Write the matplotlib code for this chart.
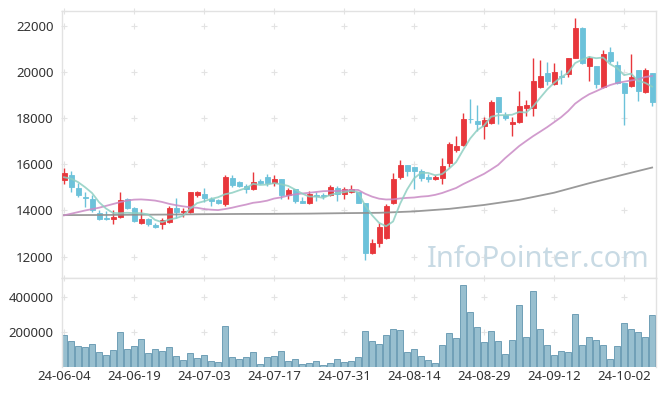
"""Candlestick chart with moving averages and volume panel."""
import matplotlib
matplotlib.use("Agg")
import matplotlib.pyplot as plt
import numpy as np
import pandas as pd

tick_labels = ["24-06-04", "24-06-19", "24-07-03", "24-07-17", "24-07-31",
               "24-08-14", "24-08-29", "24-09-12", "24-10-02"]

opens = [15300, 15555, 14960, 14600, 14480, 13880, 13680, 13625, 13710, 14500,
         14120, 13450, 13620, 13390, 13395, 13495, 14115, 13915, 13930, 14660,
         14735, 14490, 14460, 14290, 15425, 15250, 15065, 14920, 15295, 15470,
         15210, 15380, 14660, 14920, 14430, 14315, 14660, 14680, 14650, 14980,
         14720, 14790, 14790, 14315, 12155, 12590, 12820, 14335, 15440, 15975,
         15890, 15730, 15440, 15350, 15415, 16045, 16620, 16850, 17975, 17860,
         17640, 17770, 18895, 18135, 17745, 17815, 18420, 18420, 19355, 19960,
         19470, 19830, 19920, 20620, 21900, 20235, 20265, 19330, 20855, 20305,
         19500, 19400, 20080, 19110, 19960]
highs = [15850, 15730, 15180, 14820, 14650, 14000, 13970, 14040, 14780, 14520,
         14170, 14060, 13680, 13450, 13655, 14215, 14550, 14115, 14810, 14865,
         14980, 14605, 14500, 15555, 15555, 15260, 15150, 15670, 15350, 15585,
         15555, 15385, 14995, 14930, 14575, 14835, 14790, 14765, 15125, 15080,
         15005, 15110, 14800, 14320, 12760, 13470, 14290, 15630, 16190, 15980,
         15890, 15785, 15585, 15525, 16277, 16950, 17240, 18235, 18825, 18580,
         18030, 18780, 18900, 18245, 18060, 19155, 18795, 20600, 20525, 20440,
         20380, 20080, 20620, 22320, 21950, 20695, 20270, 20955, 21085, 20480,
         19505, 20770, 20080, 20190, 19965]
lows = [15150, 14790, 14570, 14140, 13930, 13570, 13600, 13430, 13680, 14050,
        13495, 13420, 13350, 13250, 13210, 13470, 13685, 13740, 13900, 14575,
        14360, 14200, 14280, 14200, 15005, 15005, 14750, 14895, 15155, 15080,
        15050, 14505, 14490, 14345, 14340, 14290, 14400, 14505, 14620, 14400,
        14505, 14765, 14340, 11870, 12130, 12415, 12775, 14300, 15370, 15510,
        14940, 15295, 15255, 15325, 15155, 15870, 16535, 16810, 17790, 17455,
        17100, 17745, 17745, 17920, 17240, 17790, 18090, 18090, 19285, 19445,
        19415, 19475, 19775, 20600, 20335, 19585, 19300, 19300, 20405, 19475,
        17700, 19355, 18720, 19085, 18505]
closes = [15610, 15007, 14650, 14520, 14000, 13620, 13630, 13700, 14460, 14100,
          13540, 13620, 13430, 13280, 13600, 14115, 13915, 13960, 14780, 14820,
          14520, 14430, 14315, 15440, 15125, 15050, 14920, 15240, 15200, 15200,
          15380, 14650, 14905, 14400, 14345, 14720, 14640, 14635, 15025, 14720,
          14935, 14935, 14345, 12155, 12605, 13280, 14215, 15370, 15975, 15700,
          15700, 15415, 15350, 15470, 15945, 16895, 16810, 17960, 17950, 17745,
          17930, 18710, 18280, 17990, 17815, 18535, 18580, 19615, 19830, 19615,
          20005, 19760, 20610, 21920, 20365, 20595, 19470, 20770, 20480, 19515,
          19070, 19790, 19185, 20080, 18680]
volumes = [186000, 152900, 121900, 116100, 133500, 87100, 69700, 98700, 203200, 104500,
           121900, 162500, 81300, 104500, 92900, 116100, 63900, 40600, 81300, 52200,
           69700, 34800, 29000, 238000, 58000, 46400, 58000, 87100, 17400, 58000,
           63900, 92900, 34800, 46400, 17400, 23200, 34800, 11600, 23200, 46400,
           29000, 34800, 58000, 209000, 150900, 133500, 185800, 220600, 214800, 87100,
           104500, 63900, 40600, 23200, 127700, 197400, 168300, 472100, 313500, 232200,
           145100, 209000, 150900, 75500, 156700, 356000, 174200, 435400, 220600, 127700,
           69700, 92900, 87100, 301900, 127700, 174200, 156700, 127700, 46400, 121900,
           255400, 220600, 203200, 174200, 296100]

# first points of the averages need history before the window
ma5_head = [15440, 15380, 15230, 15010]
ma20_head = [13790, 13860, 13930, 14000, 14060, 14120, 14200, 14280, 14360, 14430,
             14470, 14480, 14460, 14430, 14370, 14290, 14230, 14180, 14140]
ma_long_idx = [0, 5, 10, 15, 20, 25, 30, 35, 40, 45, 50, 55, 60, 65, 70, 75, 80, 84]
ma_long = [13800, 13805, 13815, 13825, 13840, 13850, 13855, 13865, 13885, 13900,
           13960, 14070, 14240, 14460, 14770, 15180, 15560, 15860]

RED = "#e8373c"
BLUE = "#6cc2da"
GRID = "#e3e3e3"
FRAME = "#e2e2e2"
FONT = "Noto Sans"

x = np.arange(len(closes))
o = np.array(opens)
c = np.array(closes)
colors = np.where(c >= o, RED, BLUE)

close_s = pd.Series(closes, dtype=float)
ma5 = close_s.rolling(5).mean().to_numpy()
ma5[:len(ma5_head)] = ma5_head
ma20 = close_s.rolling(20).mean().to_numpy()
ma20[:len(ma20_head)] = ma20_head

fig = plt.figure(figsize=(6.65, 3.96), dpi=100)
ax = fig.add_axes([0.0928, 0.2987, 0.8931, 0.6743])
axv = fig.add_axes([0.0928, 0.0725, 0.8931, 0.2262])

xlim = (-0.33, len(closes) - 0.5)
tick_pos = np.arange(0, len(closes), 10)[:len(tick_labels)]

# candles
ax.vlines(x, lows, highs, colors=colors, lw=1.0, zorder=2)
ax.bar(x, np.abs(c - o), bottom=np.minimum(o, c), width=0.72,
       color=colors, edgecolor=colors, lw=0.6, zorder=3)

ax.plot(ma_long_idx, ma_long, color="#8f8f8f", lw=1.3, alpha=0.9, zorder=4)
ax.plot(x, ma20, color="#c98ac5", lw=1.3, alpha=0.85, zorder=4)
ax.plot(x, ma5, color="#8ecfc2", lw=1.3, alpha=0.85, zorder=4)

ax.set_xlim(*xlim)
ax.set_ylim(11090, 22650)
yt = np.arange(12000, 22001, 2000)
ax.set_yticks(yt)
ax.set_xticks([])

gx, gy = np.meshgrid(tick_pos, list(yt) + [22650])
ax.plot(gx.ravel(), gy.ravel(), "+", color=GRID, ms=5, mew=0.8, zorder=0, clip_on=False)

ax.text(0.802, 0.04, "InfoPointer.com", transform=ax.transAxes, ha="center",
        va="baseline", fontsize=21, color="#c8dae4", family=FONT, zorder=1)

# volume
axv.bar(x, volumes, width=0.95, color="#98bfcf", edgecolor="#6f9fb6", lw=0.7, zorder=2)
axv.set_xlim(*xlim)
axv.set_ylim(0, 512000)
axv.set_yticks([200000, 400000])
axv.set_xticks(tick_pos)
axv.set_xticklabels(tick_labels)
gx, gy = np.meshgrid(tick_pos, [200000, 400000, 512000])
axv.plot(gx.ravel(), gy.ravel(), "+", color=GRID, ms=5, mew=0.8, zorder=0, clip_on=False)

for a in (ax, axv):
    a.set_facecolor("white")
    a.tick_params(length=0, labelsize=9.5, labelcolor="#333333", pad=6)
    for lab in a.get_xticklabels() + a.get_yticklabels():
        lab.set_family(FONT)
    for side, sp in a.spines.items():
        sp.set_color(FRAME)
        sp.set_linewidth(1.0)
axv.spines["bottom"].set_visible(False)
axv.tick_params(axis="x", pad=2)

fig.savefig("out.png", dpi=100, facecolor="white")
